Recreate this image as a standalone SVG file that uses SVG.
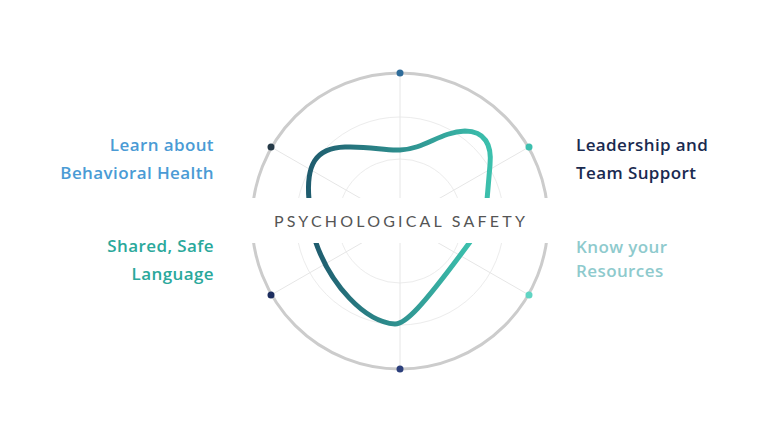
<svg xmlns="http://www.w3.org/2000/svg" width="782" height="430" viewBox="0 0 782 430">
<defs>
<style>
.lbl{font-family:"Open Sans","Liberation Sans",sans-serif;font-weight:600;font-size:17px;letter-spacing:0.4px}
.spoke{stroke:#e6e6e6;stroke-width:1;fill:none}
.ring{stroke:#ececec;stroke-width:1;fill:none}
</style>
<linearGradient id="g" x1="0" y1="0" x2="1" y2="0"><stop offset="0" stop-color="#1f5c6e"/><stop offset="1" stop-color="#3cc0ad"/></linearGradient>
</defs>
<rect width="782" height="430" fill="#fff"/>
<g id="wheel">
<circle class="ring" cx="400" cy="221" r="62"/>
<circle class="ring" cx="400" cy="221" r="104"/>
<line class="spoke" x1="400" y1="73" x2="400" y2="369"/>
<line class="spoke" x1="271" y1="147" x2="529" y2="295"/>
<line class="spoke" x1="529" y1="147" x2="271" y2="295"/>
<circle cx="400" cy="221" r="148" fill="none" stroke="#cccccc" stroke-width="3"/>
</g>
<g id="shield">
<path d="M309,200 C306,165 315,148 345,147 C370,146 385,151 400,150 C425,149 440,132 465,131 C485,131 492,145 490,165 L487,200" fill="none" stroke="url(#g)" stroke-width="5" stroke-linecap="round"/>
<path d="M315,240 C330,285 365,322 395,324 C405,324 420,310 470,242" fill="none" stroke="url(#g)" stroke-width="5" stroke-linecap="round"/>
</g>
<g id="band">
<rect x="248" y="198" width="304" height="45" fill="#fff"/>
<text x="401" y="227" text-anchor="middle" font-family="Lato,'Liberation Sans',sans-serif" font-size="16" letter-spacing="3.2" fill="#555">PSYCHOLOGICAL SAFETY</text>
</g>
<g id="dots">
<circle cx="400" cy="73" r="3.5" fill="#2f6c9a"/>
<circle cx="271" cy="147" r="3.5" fill="#263a48"/>
<circle cx="529" cy="147" r="3.5" fill="#3dbfae"/>
<circle cx="271" cy="295" r="3.5" fill="#1c2d5e"/>
<circle cx="529" cy="295" r="3.5" fill="#60d4c3"/>
<circle cx="400" cy="369" r="3.5" fill="#2c3f7c"/>
</g>
<g id="n1"><text class="lbl" x="214" y="151" text-anchor="end" fill="#4a9bd5">Learn about</text><text class="lbl" x="214" y="179" text-anchor="end" fill="#4a9bd5">Behavioral Health</text></g>
<g id="n2"><text class="lbl" x="214" y="252" text-anchor="end" fill="#2aa89b">Shared, Safe</text><text class="lbl" x="214" y="280" text-anchor="end" fill="#2aa89b">Language</text></g>
<g id="n3"><text class="lbl" x="576" y="151" fill="#1a2a50">Leadership and</text><text class="lbl" x="576" y="179" fill="#1a2a50">Team Support</text></g>
<g id="n4"><text class="lbl" x="576" y="253" fill="#8ecacd">Know your</text><text class="lbl" x="576" y="277" fill="#8ecacd">Resources</text></g>
</svg>
